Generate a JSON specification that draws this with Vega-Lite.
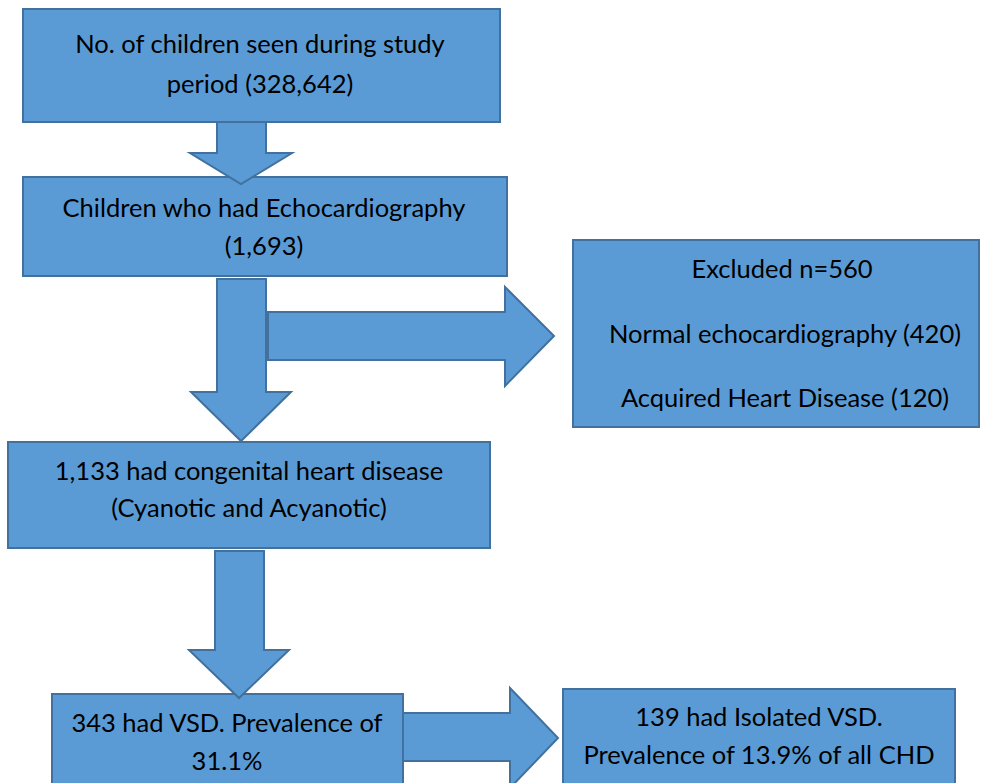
{
  "$schema": "https://vega.github.io/schema/vega-lite/v6.json",
  "width": 982,
  "height": 783,
  "autosize": {"type": "fit", "contains": "padding"},
  "padding": 0,
  "background": "white",
  "config": {"view": {"stroke": null}},
  "datasets": {
    "boxes": [
      {"box": "study", "x0": 23, "x1": 500, "y0": 9, "y1": 122},
      {"box": "echo", "x0": 23, "x1": 507, "y0": 177, "y1": 276},
      {"box": "excluded", "x0": 573, "x1": 979, "y0": 240, "y1": 427},
      {"box": "chd", "x0": 8, "x1": 490, "y0": 442, "y1": 548},
      {"box": "vsd", "x0": 52, "x1": 403, "y0": 694, "y1": 800},
      {"box": "isolated", "x0": 563, "x1": 955, "y0": 689, "y1": 800}
    ],
    "arrows": [
      {"arrow": "a1", "i": 1, "x": 217, "y": 122},
      {"arrow": "a1", "i": 2, "x": 217, "y": 153},
      {"arrow": "a1", "i": 3, "x": 190, "y": 153},
      {"arrow": "a1", "i": 4, "x": 241, "y": 184},
      {"arrow": "a1", "i": 5, "x": 292, "y": 153},
      {"arrow": "a1", "i": 6, "x": 266, "y": 153},
      {"arrow": "a1", "i": 7, "x": 266, "y": 122},
      {"arrow": "a1", "i": 8, "x": 217, "y": 122},
      {"arrow": "a2", "i": 1, "x": 217, "y": 279},
      {"arrow": "a2", "i": 2, "x": 217, "y": 392},
      {"arrow": "a2", "i": 3, "x": 191, "y": 392},
      {"arrow": "a2", "i": 4, "x": 241, "y": 441},
      {"arrow": "a2", "i": 5, "x": 291, "y": 392},
      {"arrow": "a2", "i": 6, "x": 266, "y": 392},
      {"arrow": "a2", "i": 7, "x": 266, "y": 279},
      {"arrow": "a2", "i": 8, "x": 217, "y": 279},
      {"arrow": "a4", "i": 1, "x": 215, "y": 551},
      {"arrow": "a4", "i": 2, "x": 215, "y": 650},
      {"arrow": "a4", "i": 3, "x": 189, "y": 650},
      {"arrow": "a4", "i": 4, "x": 239, "y": 698},
      {"arrow": "a4", "i": 5, "x": 289, "y": 650},
      {"arrow": "a4", "i": 6, "x": 264, "y": 650},
      {"arrow": "a4", "i": 7, "x": 264, "y": 551},
      {"arrow": "a4", "i": 8, "x": 215, "y": 551},
      {"arrow": "a3", "i": 1, "x": 268, "y": 312},
      {"arrow": "a3", "i": 2, "x": 505, "y": 312},
      {"arrow": "a3", "i": 3, "x": 505, "y": 287},
      {"arrow": "a3", "i": 4, "x": 554, "y": 336},
      {"arrow": "a3", "i": 5, "x": 505, "y": 386},
      {"arrow": "a3", "i": 6, "x": 505, "y": 360},
      {"arrow": "a3", "i": 7, "x": 268, "y": 360},
      {"arrow": "a3", "i": 8, "x": 268, "y": 312},
      {"arrow": "a5", "i": 1, "x": 403, "y": 713},
      {"arrow": "a5", "i": 2, "x": 510, "y": 713},
      {"arrow": "a5", "i": 3, "x": 510, "y": 688},
      {"arrow": "a5", "i": 4, "x": 558, "y": 738},
      {"arrow": "a5", "i": 5, "x": 510, "y": 788},
      {"arrow": "a5", "i": 6, "x": 510, "y": 761},
      {"arrow": "a5", "i": 7, "x": 403, "y": 761},
      {"arrow": "a5", "i": 8, "x": 403, "y": 713}
    ],
    "labels": [
      {"x": 260, "y": 53, "text": "No. of children seen during study"},
      {"x": 260, "y": 93, "text": "period (328,642)"},
      {"x": 264, "y": 217, "text": "Children who had Echocardiography"},
      {"x": 264, "y": 255, "text": "(1,693)"},
      {"x": 782, "y": 278, "text": "Excluded n=560"},
      {"x": 785, "y": 343, "text": "Normal echocardiography (420)"},
      {"x": 785, "y": 407, "text": "Acquired Heart Disease (120)"},
      {"x": 249, "y": 480, "text": "1,133 had congenital heart disease"},
      {"x": 249, "y": 517, "text": "(Cyanotic and Acyanotic)"},
      {"x": 227, "y": 732, "text": "343 had VSD. Prevalence of"},
      {"x": 227, "y": 770, "text": "31.1%"},
      {"x": 759, "y": 726, "text": "139 had Isolated VSD."},
      {"x": 759, "y": 764, "text": "Prevalence of 13.9% of all CHD"}
    ]
  },
  "layer": [
    {
      "data": {"name": "boxes"},
      "mark": {"type": "rect", "fill": "#5b9bd5", "stroke": "#41719c", "strokeWidth": 2, "clip": true},
      "encoding": {
        "x": {"field": "x0", "type": "quantitative", "scale": {"domain": [0, 982], "nice": false, "zero": false}, "axis": null},
        "x2": {"field": "x1"},
        "y": {"field": "y0", "type": "quantitative", "scale": {"domain": [0, 783], "nice": false, "zero": false, "reverse": true}, "axis": null},
        "y2": {"field": "y1"}
      }
    },
    {
      "data": {"name": "arrows"},
      "mark": {"type": "line", "interpolate": "linear-closed", "fill": "#5b9bd5", "fillOpacity": 1, "stroke": "#41719c", "strokeWidth": 2, "strokeJoin": "miter", "clip": true},
      "encoding": {
        "x": {"field": "x", "type": "quantitative", "axis": null},
        "y": {"field": "y", "type": "quantitative", "axis": null},
        "detail": {"field": "arrow"},
        "order": {"field": "i", "type": "quantitative"}
      }
    },
    {
      "data": {"name": "labels"},
      "mark": {"type": "text", "align": "center", "baseline": "alphabetic", "font": "Lato", "fontSize": 25.5, "color": "#000000"},
      "encoding": {
        "x": {"field": "x", "type": "quantitative", "axis": null},
        "y": {"field": "y", "type": "quantitative", "axis": null},
        "text": {"field": "text"}
      }
    }
  ],
  "resolve": {"scale": {"x": "shared", "y": "shared"}}
}
